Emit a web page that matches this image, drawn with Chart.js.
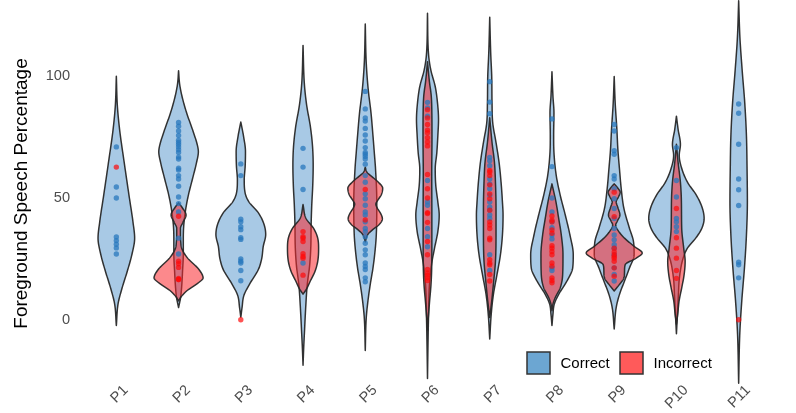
<!DOCTYPE html>
<html>
<head>
<meta charset="utf-8">
<script src="https://cdn.jsdelivr.net/npm/chart.js@4.4.0/dist/chart.umd.min.js"></script>
<style>
  html, body { margin: 0; padding: 0; background: #fff; }
</style>
</head>
<body>
<canvas id="mycanvas" width="796" height="413"></canvas>
<script>
// categories and tick labels
var participants = ['P1', 'P2', 'P3', 'P4', 'P5', 'P6', 'P7', 'P8', 'P9', 'P10', 'P11'];
var yTicks = [0, 50, 100];

// observed points (Foreground Speech Percentage), one list per participant
var correctPts = [
    [71, 54.5, 50, 34, 32.5, 31, 29.5, 27],
    [81, 79.5, 77.5, 75.7, 73.7, 72.8, 72, 71, 69.8, 68.7, 66.8, 66, 62.2, 61.5, 59.2, 57.8, 54.8, 50.4, 47.7, 44.3, 33.5, 27],
    [64, 59.2, 41.3, 40.2, 38.2, 37, 33.7, 33, 25, 24, 23.3, 20.2, 16],
    [70.4, 62.7, 53.5, 23.3],
    [93.8, 86.6, 82.9, 81.6, 78.6, 75.9, 73.4, 70.7, 68.7, 68, 67.1, 66, 63.9, 59.2, 56.5, 51.7, 49.7, 47, 44.3, 43, 40.2, 37.5, 36.2, 34.1, 31.4, 28.7, 26.7, 23.3, 21.9, 20.6, 17.2, 15.6],
    [89.3, 87, 83.6, 57.2, 48.4, 47, 37.5, 34.1, 30],
    [97.8, 89.4, 84.6, 66.7, 65.3, 63.3, 57.8, 55.8, 53.8, 51.1, 48.4, 46.3, 45, 43, 41.6, 26.7, 20.2],
    [82.5, 62.9, 50, 44.3, 40.2, 37.8, 34.8, 33.2, 21.3, 20.2],
    [80.2, 77.5, 69.4, 68, 59.2, 57.8, 53.8, 49.7, 45.7, 41.6, 37.5, 34.8, 32.8, 30.8, 29.4, 26.7, 21.3, 18.6, 15.9],
    [70.7, 57.2, 50.4, 41.6, 40.2, 38.2, 36.2],
    [88.6, 84.8, 72.1, 57.8, 53.4, 46.9, 23.6, 22.6, 17.2]
];
var incorrectPts = [
    [62.7],
    [42.5, 24, 23, 21.5, 17, 16.5, 16.5],
    [0],
    [36.2, 34.1, 33.5, 32.1, 27.1, 26, 25.3, 18.3],
    [53.5, 41],
    [86.3, 82.9, 80.2, 77.9, 76.8, 74.8, 73, 71.4, 59.7, 53.8, 50, 44, 43.6, 40, 32.1, 26.7, 20.6, 19.2, 18.3, 17.2, 16.1],
    [61.3, 60.6, 59.2, 55.4, 51.7, 49.7, 45, 40.2, 38.9, 37.5, 33.5, 32.8, 24.7, 23.3, 22.6, 18.6, 15.9],
    [42.6, 40.9, 40.2, 36.9, 35.5, 30.4, 29.4, 28, 26.7, 23.3, 22, 17.2, 16.1, 15.2],
    [52.4, 42.3, 29.4, 27.8, 26.7, 26, 25.3, 24, 21.3, 17.9],
    [45.7, 33.7, 29.4, 25.3, 20.2, 17],
    [0]
];

// violin outlines: [value, half width in category units]
var correctViolin = [
    [[100, 0], [88, 0.016], [78, 0.053], [65, 0.124], [51, 0.204], [40, 0.268], [33.5, 0.294], [27, 0.252], [20, 0.177], [13, 0.092], [6.4, 0.027], [-2.4, 0]],
    [[102.3, 0], [97, 0.016], [92, 0.053], [85, 0.129], [78, 0.225], [71.4, 0.305], [69, 0.318], [64.6, 0.289], [58, 0.225], [51, 0.156], [44.3, 0.108], [37.5, 0.08], [32, 0.076], [27, 0.076], [20, 0.064], [13, 0.048], [9, 0.032], [5, 0]],
    [[81.2, 0], [75.5, 0.043], [69, 0.075], [63, 0.07], [57.5, 0.055], [52, 0.07], [48.4, 0.13], [44, 0.28], [39, 0.375], [35, 0.4], [30, 0.36], [25, 0.335], [20.5, 0.28], [15, 0.15], [10, 0.05], [5, 0.02], [1, 0]],
    [[112.7, 0], [97, 0.021], [88, 0.059], [79.5, 0.117], [71.4, 0.152], [63.3, 0.163], [55.2, 0.156], [47, 0.14], [39, 0.13], [30, 0.125], [22, 0.105], [15, 0.07], [11.8, 0.059], [6, 0.045], [2.3, 0.037], [-4.5, 0.024], [-11.3, 0.011], [-18.7, 0]],
    [[121.5, 0], [105.3, 0.016], [94.4, 0.048], [85, 0.092], [75.5, 0.124], [68.7, 0.145], [61.9, 0.165], [48.4, 0.185], [34.8, 0.177], [28, 0.156], [21.3, 0.124], [14.5, 0.08], [7.7, 0.043], [0.9, 0.016], [-12.6, 0]],
    [[125.9, 0], [109.3, 0.016], [102.6, 0.053], [95.8, 0.124], [89, 0.161], [82.2, 0.177], [75.5, 0.166], [68.7, 0.15], [61.9, 0.124], [55.2, 0.133], [48.4, 0.166], [43, 0.188], [36.2, 0.166], [29.4, 0.113], [22.6, 0.064], [14.5, 0.032], [0.9, 0.016], [-10, 0.008], [-24.1, 0]],
    [[124.3, 0], [109.3, 0.016], [99.9, 0.032], [89, 0.037], [80.9, 0.048], [72.8, 0.101], [64.6, 0.15], [56.5, 0.182], [48.4, 0.204], [43, 0.214], [34.8, 0.204], [26.7, 0.172], [18.6, 0.117], [10.4, 0.059], [2.3, 0.024], [-7.9, 0]],
    [[101.9, 0], [91.7, 0.016], [85, 0.032], [75.5, 0.027], [68.7, 0.032], [59.2, 0.069], [51.1, 0.133], [43, 0.214], [34.8, 0.289], [26.7, 0.342], [21.3, 0.333], [15.9, 0.241], [10.4, 0.108], [6.4, 0.037], [2.3, 0.016], [-2.4, 0]],
    [[99.9, 0], [89, 0.016], [78.2, 0.043], [70, 0.059], [61.9, 0.085], [53.8, 0.113], [45.7, 0.156], [37.5, 0.246], [32.1, 0.31], [26.7, 0.32], [21.3, 0.246], [15.9, 0.166], [10.4, 0.085], [5, 0.032], [-3.8, 0]],
    [[83.6, 0], [78.2, 0.027], [72, 0.064], [67.5, 0.045], [63, 0.075], [56.5, 0.177], [51.1, 0.322], [45.7, 0.418], [41.6, 0.445], [37.5, 0.407], [33.5, 0.31], [29.4, 0.177], [25.3, 0.108], [17.2, 0.048], [10.4, 0.032], [2.3, 0.016], [-5.8, 0]],
    [[131, 0], [116, 0.02], [102.6, 0.056], [89, 0.098], [75.5, 0.125], [61.9, 0.135], [48.4, 0.14], [34.8, 0.125], [21.3, 0.093], [7.7, 0.05], [-5.8, 0.018], [-26.1, 0]]
];
var incorrectViolin = [
    null,
    [[48, 0], [46, 0.06], [43, 0.12], [40, 0.07], [37.5, 0.03], [35, 0.03], [32, 0.035], [29.4, 0.05], [25.3, 0.145], [21.3, 0.305], [18.5, 0.38], [17.2, 0.394], [15.2, 0.32], [11.8, 0.129], [9.1, 0.032], [7.7, 0]],
    null,
    [[47.3, 0], [41.6, 0.048], [37.5, 0.17], [33.5, 0.236], [29, 0.25], [24, 0.236], [19.9, 0.193], [15.9, 0.117], [12.5, 0.053], [10.5, 0]],
    [[62.6, 0], [60.5, 0.03], [58.5, 0.12], [56.5, 0.21], [54, 0.28], [51.5, 0.26], [49, 0.2], [47.5, 0.17], [46, 0.19], [43.5, 0.25], [41.5, 0.275], [39, 0.22], [37, 0.12], [35, 0.04], [32, 0]],
    [[106, 0], [98, 0.03], [92, 0.06], [85, 0.07], [75, 0.072], [60, 0.068], [45, 0.07], [30, 0.07], [20, 0.066], [14, 0.055], [8, 0.035], [2, 0.016], [-4, 0]],
    [[83, 0], [72.8, 0.037], [64.6, 0.076], [56.5, 0.092], [45.7, 0.101], [34.8, 0.101], [24, 0.092], [15.9, 0.064], [7.7, 0.032], [0.9, 0]],
    [[55.8, 0], [48.4, 0.064], [41.6, 0.108], [34.8, 0.15], [26.7, 0.177], [18.6, 0.172], [13.1, 0.133], [9.1, 0.053], [6.4, 0.016], [3.7, 0]],
    [[55.8, 0], [54, 0.06], [52.4, 0.096], [50.5, 0.07], [48.4, 0.032], [46, 0.06], [43, 0.092], [40.5, 0.05], [38.9, 0.024], [36, 0.08], [33.5, 0.166], [30.1, 0.322], [27.4, 0.45], [25.3, 0.354], [22.6, 0.177], [19.9, 0.166], [17.2, 0.156], [14.5, 0.085], [11.8, 0]],
    [[72.1, 0], [64.6, 0.027], [56.5, 0.064], [48.4, 0.08], [37.5, 0.085], [29.4, 0.117], [24, 0.14], [18.6, 0.124], [13.1, 0.085], [7.7, 0.043], [2.3, 0.021], [-1.8, 0]],
    null
];

var FONT = 'Liberation Sans, Arial, sans-serif';
var blueFill = 'rgba(70,140,200,0.47)';
var redFill = 'rgba(250,40,45,0.55)';
var outline = 'rgba(40,40,40,0.95)';

// monotone cubic interpolation of the half width along the value axis
function makeInterp(profile) {
    var pts = profile.slice().sort(function (a, b) { return a[0] - b[0]; });
    var n = pts.length;
    var xs = pts.map(function (p) { return p[0]; });
    var ys = pts.map(function (p) { return p[1]; });
    var d = [], m = [], i;
    for (i = 0; i < n - 1; i++) d[i] = (ys[i + 1] - ys[i]) / (xs[i + 1] - xs[i]);
    m[0] = d[0];
    m[n - 1] = d[n - 2];
    for (i = 1; i < n - 1; i++) m[i] = (d[i - 1] * d[i] <= 0) ? 0 : (d[i - 1] + d[i]) / 2;
    for (i = 0; i < n - 1; i++) {
        if (d[i] === 0) { m[i] = 0; m[i + 1] = 0; continue; }
        var a = m[i] / d[i], b = m[i + 1] / d[i], s = a * a + b * b;
        if (s > 9) {
            var t = 3 / Math.sqrt(s);
            m[i] = t * a * d[i];
            m[i + 1] = t * b * d[i];
        }
    }
    return {
        lo: xs[0], hi: xs[n - 1],
        f: function (x) {
            if (x <= xs[0]) return ys[0];
            if (x >= xs[n - 1]) return ys[n - 1];
            var k = 0;
            while (k < n - 2 && x > xs[k + 1]) k++;
            var h = xs[k + 1] - xs[k], u = (x - xs[k]) / h;
            var u2 = u * u, u3 = u2 * u;
            return (2 * u3 - 3 * u2 + 1) * ys[k] + (u3 - 2 * u2 + u) * h * m[k] +
                (-2 * u3 + 3 * u2) * ys[k + 1] + (u3 - u2) * h * m[k + 1];
        }
    };
}

function drawViolin(ctx, xScale, yScale, idx, profile, fill) {
    if (!profile) return;
    var ip = makeInterp(profile);
    var cx = xScale.getPixelForValue(idx);
    var unit = xScale.getPixelForValue(idx + 1) - cx;
    var step = 0.2, v;
    ctx.beginPath();
    ctx.moveTo(cx, yScale.getPixelForValue(ip.hi));
    for (v = ip.hi; v >= ip.lo; v -= step) {
        ctx.lineTo(cx + Math.max(0, ip.f(v)) * unit, yScale.getPixelForValue(v));
    }
    ctx.lineTo(cx, yScale.getPixelForValue(ip.lo));
    for (v = ip.lo; v <= ip.hi; v += step) {
        ctx.lineTo(cx - Math.max(0, ip.f(v)) * unit, yScale.getPixelForValue(v));
    }
    ctx.closePath();
    ctx.fillStyle = fill;
    ctx.fill();
    ctx.strokeStyle = outline;
    ctx.lineWidth = 1.5;
    ctx.lineJoin = 'round';
    ctx.stroke();
}

var violinPlugin = {
    id: 'violins',
    beforeDatasetsDraw: function (chart) {
        var ctx = chart.ctx;
        ctx.save();
        for (var i = 0; i < participants.length; i++) {
            drawViolin(ctx, chart.scales.x, chart.scales.y, i, correctViolin[i], blueFill);
            drawViolin(ctx, chart.scales.x, chart.scales.y, i, incorrectViolin[i], redFill);
        }
        ctx.restore();
    }
};

// rotated category labels, anchored at their right end next to each tick
var xLabelPlugin = {
    id: 'xLabels',
    afterDraw: function (chart) {
        var ctx = chart.ctx, xs = chart.scales.x;
        ctx.save();
        ctx.fillStyle = '#4d4d4d';
        ctx.font = '14.6px ' + FONT;
        ctx.textAlign = 'right';
        ctx.textBaseline = 'middle';
        participants.forEach(function (p, i) {
            ctx.save();
            ctx.translate(xs.getPixelForValue(i) + 9.5, xs.top + 5);
            ctx.rotate(-Math.PI / 4);
            ctx.fillText(p, 0, 0);
            ctx.restore();
        });
        ctx.restore();
    }
};

var legendPlugin = {
    id: 'violinLegend',
    afterDraw: function (chart) {
        var ctx = chart.ctx;
        var items = [
            { text: 'Correct', color: 'rgb(108,166,210)', x: 527 },
            { text: 'Incorrect', color: 'rgb(255,90,90)', x: 620 }
        ];
        ctx.save();
        items.forEach(function (it) {
            ctx.fillStyle = it.color;
            ctx.fillRect(it.x, 352, 23, 22);
            ctx.strokeStyle = '#333';
            ctx.lineWidth = 1.5;
            ctx.strokeRect(it.x, 352, 23, 22);
            ctx.fillStyle = '#000';
            ctx.font = '15px ' + FONT;
            ctx.textAlign = 'left';
            ctx.textBaseline = 'middle';
            ctx.fillText(it.text, it.x + 33.5, 363.5);
        });
        ctx.restore();
    }
};

function toPoints(lists) {
    var out = [];
    lists.forEach(function (vals, i) {
        vals.forEach(function (v) { out.push({ x: i, y: v }); });
    });
    return out;
}

var chartdata = {
    datasets: [
        {
            label: 'Incorrect',
            data: toPoints(incorrectPts),
            backgroundColor: 'rgba(255,10,10,0.7)',
            pointRadius: 2.7,
            pointBorderWidth: 0,
            order: 1
        },
        {
            label: 'Correct',
            data: toPoints(correctPts),
            backgroundColor: 'rgba(40,120,190,0.75)',
            pointRadius: 2.7,
            pointBorderWidth: 0,
            order: 2
        }
    ]
};

var ctx = document.getElementById('mycanvas');
var mycanvas = new Chart(ctx, {
    type: 'scatter',
    data: chartdata,
    plugins: [violinPlugin, xLabelPlugin, legendPlugin],
    options: {
        responsive: false,
        animation: false,
        devicePixelRatio: 1,
        clip: false,
        layout: { padding: { left: 0, right: 20, top: 0, bottom: 0 } },
        plugins: { legend: { display: false }, tooltip: { enabled: false } },
        scales: {
            x: {
                type: 'linear',
                min: -0.6,
                max: 10.6,
                grid: { display: false, drawTicks: false },
                border: { display: false },
                afterBuildTicks: function (s) {
                    s.ticks = participants.map(function (p, i) { return { value: i }; });
                },
                afterFit: function (s) {
                    s.height = 30;
                    s.paddingLeft = 0;
                    s.paddingRight = 0;
                },
                ticks: { display: false }
            },
            y: {
                min: -26,
                max: 129.7,
                grid: { display: false, drawTicks: false },
                border: { display: false },
                afterBuildTicks: function (s) {
                    s.ticks = yTicks.map(function (v) { return { value: v }; });
                },
                afterFit: function (s) {
                    s.width = 79;
                    s.paddingTop = 0;
                    s.paddingBottom = 0;
                },
                ticks: {
                    padding: 9,
                    color: '#4d4d4d',
                    font: { family: FONT, size: 14.6 }
                },
                title: {
                    display: true,
                    text: 'Foreground Speech Percentage',
                    color: '#000',
                    font: { family: FONT, size: 19 },
                    padding: { top: 10, bottom: 0 }
                }
            }
        }
    }
});
</script>
</body>
</html>
